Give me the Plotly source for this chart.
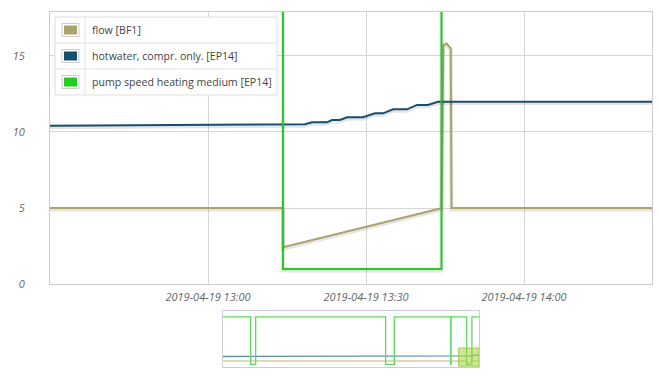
import plotly.graph_objects as go

W, H = 660, 375

# ---------------- main window data ----------------
flow_t = ["2019-04-19 12:30:00", "2019-04-19 13:14:14", "2019-04-19 13:14:14",
          "2019-04-19 13:44:20", "2019-04-19 13:44:41", "2019-04-19 13:45:18",
          "2019-04-19 13:45:46", "2019-04-19 13:46:05", "2019-04-19 13:46:14",
          "2019-04-19 14:24:18"]
flow_v = [5.0, 5.0, 2.43, 5.0, 15.7, 15.8, 15.6, 15.5, 5.0, 5.0]

hot_t = ["2019-04-19 12:30:00", "2019-04-19 13:14:14", "2019-04-19 13:18:25",
         "2019-04-19 13:19:45", "2019-04-19 13:22:36", "2019-04-19 13:23:32",
         "2019-04-19 13:25:04", "2019-04-19 13:26:24", "2019-04-19 13:29:26",
         "2019-04-19 13:31:42", "2019-04-19 13:33:14", "2019-04-19 13:35:08",
         "2019-04-19 13:37:47", "2019-04-19 13:39:41", "2019-04-19 13:41:46",
         "2019-04-19 13:43:40", "2019-04-19 14:24:18"]
hot_v = [10.4, 10.5, 10.5, 10.63, 10.63, 10.78, 10.78, 10.96, 10.96,
         11.22, 11.22, 11.48, 11.48, 11.77, 11.77, 11.98, 11.98]

pump_t = ["2019-04-19 12:30:00", "2019-04-19 13:14:14", "2019-04-19 13:14:14",
          "2019-04-19 13:44:20", "2019-04-19 13:44:20", "2019-04-19 14:24:18"]
pump_v = [58, 58, 1.0, 1.0, 58, 58]

# ---------------- navigator (previous 24h) data ----------------
nav_flow_t = ["2019-04-18 14:24:18"]
nav_flow_v = [5.0]
nav_hot_t = ["2019-04-18 14:24:18"]
nav_hot_v = [10.4]
nav_pump_t = ["2019-04-18 14:24:18", "2019-04-18 17:00:00", "2019-04-18 17:00:00",
              "2019-04-18 17:28:00", "2019-04-18 17:28:00", "2019-04-19 05:39:00",
              "2019-04-19 05:39:00", "2019-04-19 06:28:00", "2019-04-19 06:28:00",
              "2019-04-19 11:45:00", "2019-04-19 11:45:00", "2019-04-19 11:47:00",
              "2019-04-19 11:47:00"]
nav_pump_v = [58, 58, 1, 1, 58, 58, 1, 1, 58, 58, 1, 1, 58]

names = ["flow [BF1]", "hotwater, compr. only. [EP14]", "pump speed heating medium [EP14]"]
colors = ["#aca36a", "#17506f", "#22cc22"]

win_start, win_end = "2019-04-19 12:30:00", "2019-04-19 14:24:18"
nav_start = "2019-04-18 14:24:18"
x_ticks = ["2019-04-19 13:00", "2019-04-19 13:30", "2019-04-19 14:00"]
y_ticks = [0, 5, 10, 15]

FONT = "Open Sans"

def px_x(p):
    return p / W

def px_y(p):
    return 1 - p / H

fig = go.Figure()

# shadows + main lines
for t, v, c in [(flow_t, flow_v, colors[0]), (hot_t, hot_v, colors[1]), (pump_t, pump_v, colors[2])]:
    fig.add_trace(go.Scatter(x=t, y=[val - 0.09 for val in v], mode="lines",
                             line=dict(color="rgba(0,0,0,0.10)", width=4),
                             hoverinfo="skip", showlegend=False, xaxis="x", yaxis="y"))
    fig.add_trace(go.Scatter(x=t, y=v, mode="lines", line=dict(color=c, width=2),
                             showlegend=False, xaxis="x", yaxis="y"))

# navigator lines
nav_sets = [(nav_flow_t + flow_t, nav_flow_v + flow_v, "#d9c9a9"),
            (nav_hot_t + hot_t, nav_hot_v + hot_v, "#5d8fae"),
            (nav_pump_t + pump_t, nav_pump_v + pump_v, "#5fd85f")]
for t, v, c in nav_sets:
    fig.add_trace(go.Scatter(x=t, y=v, mode="lines", line=dict(color=c, width=1.3),
                             hoverinfo="skip", showlegend=False, xaxis="x2", yaxis="y2"))

tickfont = dict(family=FONT, size=11, color="#666666", style="italic")

fig.update_layout(
    width=W, height=H, autosize=False,
    margin=dict(l=0, r=0, t=0, b=0, pad=0),
    paper_bgcolor="white", plot_bgcolor="white",
    showlegend=False,
    xaxis=dict(domain=[px_x(50), px_x(652)], range=[win_start, win_end],
               tickvals=x_ticks, ticktext=x_ticks, tickfont=tickfont,
               showgrid=True, gridcolor="#d6d6d6", gridwidth=1,
               showline=True, linecolor="#cccccc", linewidth=1, mirror=True,
               ticks="", zeroline=False, ticklabelstandoff=2, anchor="y",
               automargin=False),
    yaxis=dict(domain=[px_y(284.3), px_y(12)], range=[0, 17.87],
               tickvals=y_ticks, tickfont=tickfont,
               showgrid=True, gridcolor="#d6d6d6", gridwidth=1,
               showline=True, linecolor="#cccccc", linewidth=1, mirror=True,
               ticks="", zeroline=False, ticklabelstandoff=22, anchor="x",
               automargin=False),
    xaxis2=dict(domain=[px_x(223), px_x(479)], range=[nav_start, win_end],
                showticklabels=False, showgrid=False, ticks="", zeroline=False,
                showline=True, linecolor="#cfcadb", linewidth=1, mirror=True, anchor="y2",
                automargin=False),
    yaxis2=dict(domain=[px_y(367), px_y(311)], range=[-2.2, 65],
                showticklabels=False, showgrid=False, ticks="", zeroline=False,
                showline=True, linecolor="#cfcadb", linewidth=1, mirror=True, anchor="x2",
                automargin=False),
)

# navigator selection box
fig.add_shape(type="rect", xref="x2", yref="y2", x0=win_start, x1=win_end, y0=-1.2, y1=20.6,
              fillcolor="rgba(170,210,70,0.55)", line=dict(color="rgba(150,200,60,0.9)", width=1),
              layer="above")

# custom legend table
lx0, lx1, ly0, ly1 = 55, 277, 17, 95
rows = [17, 43, 69, 95]
fig.add_shape(type="rect", xref="paper", yref="paper", x0=px_x(lx0), x1=px_x(lx1),
              y0=px_y(ly1), y1=px_y(ly0), fillcolor="white",
              line=dict(color="#dddddd", width=1), layer="above")
for r in rows[1:-1]:
    fig.add_shape(type="line", xref="paper", yref="paper", x0=px_x(lx0), x1=px_x(lx1),
                  y0=px_y(r), y1=px_y(r), line=dict(color="#e2e2e2", width=1), layer="above")
fig.add_shape(type="line", xref="paper", yref="paper", x0=px_x(85), x1=px_x(85),
              y0=px_y(ly1), y1=px_y(ly0), line=dict(color="#e2e2e2", width=1), layer="above")
for i, (nm, c) in enumerate(zip(names, colors)):
    cy = (rows[i] + rows[i + 1]) / 2
    fig.add_shape(type="rect", xref="paper", yref="paper", x0=px_x(62), x1=px_x(79),
                  y0=px_y(cy + 6.5), y1=px_y(cy - 6.5), fillcolor="white",
                  line=dict(color="#cccccc", width=1), layer="above")
    fig.add_shape(type="rect", xref="paper", yref="paper", x0=px_x(64), x1=px_x(77),
                  y0=px_y(cy + 4.5), y1=px_y(cy - 4.5), fillcolor=c,
                  line=dict(width=0), layer="above")
    fig.add_annotation(x=px_x(90), y=px_y(cy), xref="paper", yref="paper", text=nm,
                       showarrow=False, xanchor="left", yanchor="middle",
                       font=dict(family=FONT, size=10.6, color="#444444"))

fig.write_html("out.html", config={"displayModeBar": False, "responsive": False},
               post_script="document.body.style.margin='0';document.body.style.padding='0';")
